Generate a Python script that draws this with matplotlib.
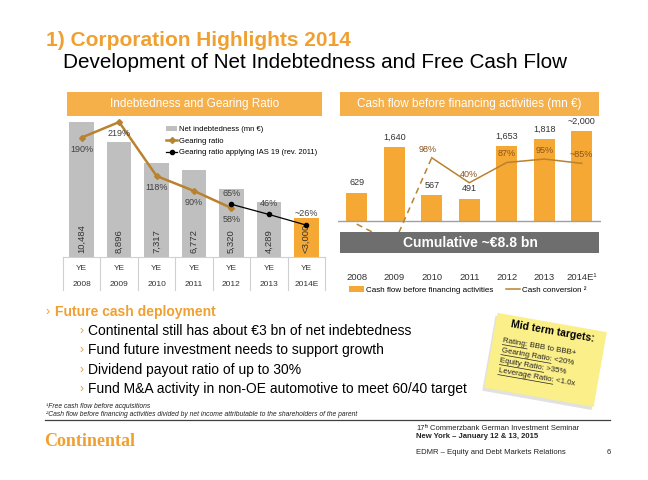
#!/usr/bin/env python
# -*- coding: utf-8 -*-

import numpy as np
import matplotlib
matplotlib.use("Agg")
import matplotlib.pyplot as plt
from matplotlib.patches import Rectangle
from matplotlib.lines import Line2D
from matplotlib.transforms import Affine2D

# datos del grafico de la izquierda
anios_deuda = ["2008", "2009", "2010", "2011", "2012", "2013", "2014E"]
deuda_neta = [10484, 8896, 7317, 6772, 5320, 4289, 3000]
etiquetas_deuda = ["10,484", "8,896", "7,317", "6,772", "5,320", "4,289", "<3,000"]
gearing = [190, 219, 118, 90, 58]
gearing_ias = [65, 46, 26]
etiquetas_ias = ["65%", "46%", "~26%"]

# datos del grafico de la derecha
anios_cf = ["2008", "2009", "2010", "2011", "2012", "2013", u"2014E¹"]
cash_flow = [629, 1640, 567, 491, 1653, 1818, 2000]
etiquetas_cf = ["629", "1,640", "567", "491", "1,653", "1,818", "~2,000"]
conversion = [-56, -100, 98, 40, 87, 95, 85]
etiquetas_conv = ["", "", "98%", "40%", "87%", "95%", "~85%"]

NARANJA = "#F5A833"
CABECERA = "#F6B04A"
GRIS = "#BFBFBF"
MARRON = "#B9822F"

plt.rcParams["font.family"] = ["Liberation Sans", "DejaVu Sans"]

W, H = 648, 480
fig = plt.figure(figsize=(W / 100, H / 100), dpi=100)


def ejes_px(x0, y0, x1, y1):
    return fig.add_axes([x0 / W, 1 - y1 / H, (x1 - x0) / W, (y1 - y0) / H])


def texto(x, y, s, **kw):
    return fig.text(x / W, 1 - y / H, s, **kw)


def caja(x0, y0, x1, y1, color, z=1):
    r = Rectangle((x0 / W, 1 - y1 / H), (x1 - x0) / W, (y1 - y0) / H,
                  transform=fig.transFigure, facecolor=color, edgecolor="none", zorder=z)
    fig.patches.append(r)
    return r


# titulos
texto(46, 40, "1) Corporation Highlights 2014", fontsize=15, fontweight="bold",
      color="#F0A030", va="center")
texto(63, 62, "Development of Net Indebtedness and Free Cash Flow", fontsize=14.9,
      color="black", va="center")

# cabeceras naranjas
caja(67, 92, 322, 116, CABECERA)
texto(195, 104, "Indebtedness and Gearing Ratio", fontsize=8.5, color="white",
      ha="center", va="center")
caja(340, 92, 599, 116, CABECERA)
texto(469, 104, u"Cash flow before financing activities (mn €)", fontsize=8.5,
      color="white", ha="center", va="center")

# ---------------- grafico izquierdo ----------------
ax1 = ejes_px(63, 115, 325, 257)
x = range(len(anios_deuda))
colores = [GRIS] * (len(deuda_neta) - 1) + [NARANJA]
ax1.bar(x, deuda_neta, 0.66, color=colores, zorder=1)
for i, et in enumerate(etiquetas_deuda):
    ax1.text(i, 300, et, rotation=90, ha="center", va="bottom", fontsize=6.8,
             color="#333333")
ax1.set_xlim(-0.5, 6.5)
ax1.set_ylim(0, 11030)
ax1.set_yticks([])
ax1.set_xticks(list(x))
ax1.set_xticklabels(["YE\n" + a for a in anios_deuda], fontsize=6, linespacing=2.8,
                    color="#333333")
ax1.tick_params(axis="x", length=0, pad=6)
for s in ax1.spines.values():
    s.set_visible(False)
# rejilla de la tabla
for k in range(8):
    ax1.plot([k - 0.5, k - 0.5], [0, -0.23], transform=ax1.get_xaxis_transform(),
             color="#D0D0D0", lw=0.8, clip_on=False)
ax1.plot([-0.5, 6.5], [0, 0], transform=ax1.get_xaxis_transform(), color="#D0D0D0",
         lw=0.8, clip_on=False)

ax1b = ax1.twinx()
ax1b.set_ylim(-33.7, 232.2)
ax1b.axis("off")
ax1b.plot(range(len(gearing)), gearing, color=MARRON, lw=1.8, marker="D",
          markersize=3)
ax1b.plot(range(4, 4 + len(gearing_ias)), gearing_ias, color="black", lw=0.9,
          marker="o", markersize=3)
for i, v in enumerate(gearing):
    ax1b.text(i, v - 22, "%d%%" % v, ha="center", va="center", fontsize=6.5,
              color="#404040")
for i, v in enumerate(gearing_ias):
    ax1b.text(4 + i, v + 21, etiquetas_ias[i], ha="center", va="center",
              fontsize=6.5, color="#404040")

ley1 = [Rectangle((0, 0), 1, 1, facecolor=GRIS, edgecolor="none"),
        Line2D([], [], color=MARRON, lw=1.8, marker="D", markersize=3),
        Line2D([], [], color="black", lw=0.9, marker="o", markersize=3)]
ax1.legend(ley1, [u"Net indebtedness (mn €)", "Gearing ratio",
                  "Gearing ratio applying IAS 19 (rev. 2011)"],
           loc="upper left", bbox_to_anchor=(0.38, 0.95), fontsize=5.5,
           frameon=False, handlelength=1.4, handletextpad=0.3, labelspacing=0.55,
           borderpad=0)

# ---------------- grafico derecho ----------------
ax2 = ejes_px(338, 120, 600.5, 240)
x2 = range(len(anios_cf))
ax2.bar(x2, cash_flow, 0.56, color=NARANJA, zorder=1)
for i, et in enumerate(etiquetas_cf):
    ax2.text(i, cash_flow[i] + 120, et, ha="center", va="bottom", fontsize=6.5,
             color="#333333")
ax2.set_xlim(-0.5, 6.5)
ax2.set_ylim(-421, 2240)
ax2.set_yticks([])
ax2.axhline(0, color="#A0A0A0", lw=1)
ax2.set_xticks(list(x2))
ax2.set_xticklabels(anios_cf, fontsize=6.8, color="#333333")
ax2.tick_params(axis="x", length=0, pad=24)
for s in ax2.spines.values():
    s.set_visible(False)

ax2b = ax2.twinx()
ax2b.set_ylim(-92.8, 185.6)
ax2b.axis("off")
ax2b.plot(range(0, 3), conversion[0:3], color=MARRON, lw=1.1, ls=(0, (4, 3)))
ax2b.plot(range(2, 7), conversion[2:], color=MARRON, lw=1.1)
desp_c = [0, 0, -0.12, 0, 0, 0, 0]
for i, et in enumerate(etiquetas_conv):
    if et:
        ax2b.text(i + desp_c[i], conversion[i] + 20, et, ha="center", va="center",
                  fontsize=6.5, color="#8A5420")

ley2 = [Rectangle((0, 0), 1, 1, facecolor=NARANJA, edgecolor="none"),
        Line2D([], [], color=MARRON, lw=1.1)]
fig.legend(ley2, ["Cash flow before financing activities", u"Cash conversion ²"],
           loc="center", bbox_to_anchor=(468 / W, 1 - 290 / H), ncol=2,
           fontsize=5.8, frameon=False, handlelength=1.8, handletextpad=0.3,
           columnspacing=1.5, borderpad=0)

# caja gris "Cumulative"
caja(340, 232, 599, 253, "#6E6E6E", z=5)
t = texto(470, 243, u"Cumulative ~€8.8 bn", fontsize=10, fontweight="bold",
          color="white", ha="center", va="center")
t.set_zorder(6)

# ---------------- texto inferior ----------------
texto(46, 312, u"›", fontsize=9, color="#F0A030", va="center")
texto(55, 312, "Future cash deployment", fontsize=10, fontweight="bold",
      color="#F0A030", va="center")
puntos = [u"Continental still has about €3 bn of net indebtedness",
          "Fund future investment needs to support growth",
          "Dividend payout ratio of up to 30%",
          "Fund M&A activity in non-OE automotive to meet 60/40 target"]
for j, p in enumerate(puntos):
    yy = 331 + j * 19.3
    texto(80, yy, u"›", fontsize=9, color="#E0A050", va="center")
    texto(88, yy, p, fontsize=10, color="black", va="center")

# nota adhesiva
ang = -10
cx, cy = 546, 360
sombra = Rectangle((-56, -38), 111, 76, facecolor="#C4C4C4", edgecolor="none",
                   transform=Affine2D().rotate_deg(ang).translate(cx - 2, H - cy - 3),
                   alpha=0.5, zorder=2)
nota = Rectangle((-56, -38), 111, 76, facecolor="#FBEF8A", edgecolor="none",
                 transform=Affine2D().rotate_deg(ang).translate(cx, H - cy), zorder=3)
fig.patches.append(sombra)
fig.patches.append(nota)
texto(553, 331, "Mid term targets:", fontsize=7.5, fontweight="bold", rotation=ang,
      ha="center", va="center", rotation_mode="anchor", zorder=4)
lineas_nota = [("Rating:", " BBB to BBB+"), ("Gearing Ratio:", " <20%"),
               ("Equity Ratio:", " >35%"), ("Leverage Ratio:", " <1.0x")]
rend = fig.canvas.get_renderer()
c, s_ = np.cos(np.radians(ang)), np.sin(np.radians(ang))
for j, (a, b) in enumerate(lineas_nota):
    x0, y0 = 503 - j * 1.5, 341 + j * 10
    texto(x0, y0, a + b, fontsize=5.7, rotation=ang, ha="left", va="center",
          rotation_mode="anchor", zorder=4, color="#222222")
    # subrayado de la etiqueta
    tmp = fig.text(0, 0, a, fontsize=5.7)
    ancho = tmp.get_window_extent(renderer=rend).width
    tmp.remove()
    d = 3.6
    px0 = x0 + d * s_
    py0 = (H - y0) - d * c
    px1 = px0 + ancho * c
    py1 = py0 + ancho * s_
    fig.add_artist(Line2D([px0 / W, px1 / W], [py0 / H, py1 / H], color="#222222",
                          lw=0.5, zorder=4))

# notas al pie
texto(46, 407, u"¹Free cash flow before acquisitions", fontsize=4.9, style="italic",
      va="center", color="#222222")
texto(46, 415, u"²Cash flow before financing activities divided by net income "
      "attributable to the shareholders of the parent", fontsize=4.9, style="italic",
      va="center", color="#222222")
fig.add_artist(Line2D([45 / W, 610 / W], [1 - 420 / H, 1 - 420 / H], color="#404040",
                      lw=0.9))

texto(44, 441, "Continental", fontsize=13, fontweight="bold", color="#F0A030",
      family="Liberation Serif", va="center")
texto(416, 429, "17", fontsize=5.5, va="center", color="#222222")
texto(424.5, 427, "th", fontsize=3.6, va="center", color="#222222")
texto(430, 429, "Commerzbank German Investment Seminar", fontsize=5.5,
      va="center", color="#222222")
texto(416, 437, u"New York – January 12 & 13, 2015", fontsize=5.5, fontweight="bold",
      va="center", color="#222222")
texto(416, 452, u"EDMR – Equity and Debt Markets Relations", fontsize=5.5,
      va="center", color="#222222")
texto(607, 452, "6", fontsize=5.5, va="center", color="#222222")

plt.savefig("out.png", dpi=100)
